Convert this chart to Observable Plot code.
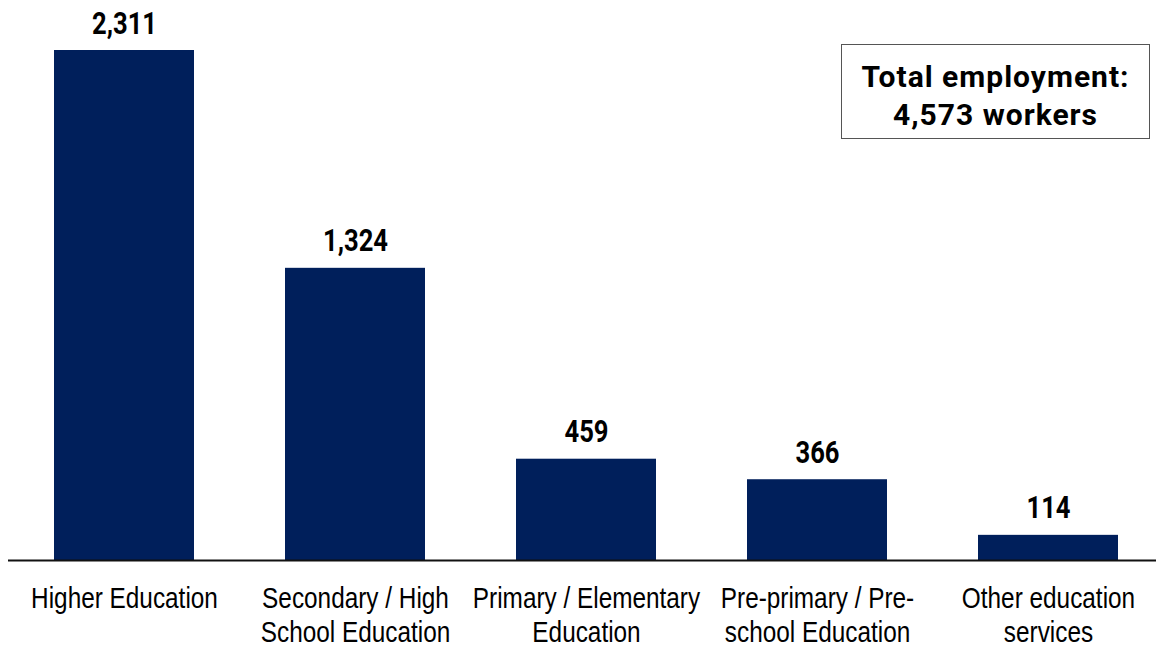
<!DOCTYPE html>
<html>
<head>
<meta charset="utf-8">
<script src="https://cdn.jsdelivr.net/npm/d3@7"></script>
<script src="https://cdn.jsdelivr.net/npm/@observablehq/plot@0.6"></script>
<style>
  html, body { margin: 0; padding: 0; background: #fff; }
  #wrap { position: relative; width: 1156px; height: 646px; }
  #note {
    position: absolute; left: 841px; top: 44px; width: 307px; height: 93px;
    border: 1.5px solid #555; box-sizing: content-box;
    font-family: Roboto, "DejaVu Sans", sans-serif; font-weight: 700;
    font-size: 30px; line-height: 38px; letter-spacing: 1px;
    text-align: center; color: #000;
  }
  #note .inner { padding-top: 13px; }
</style>
</head>
<body>
<div id="wrap">
  <div id="chart"></div>
  <div id="note"><div class="inner">Total employment:<br>4,573 workers</div></div>
</div>
<script>
const categories = [
  "Higher Education",
  "Secondary / High School Education",
  "Primary / Elementary Education",
  "Pre-primary / Pre-school Education",
  "Other education services"
];
const tickLabels = [
  "Higher Education",
  "Secondary / High\nSchool Education",
  "Primary / Elementary\nEducation",
  "Pre-primary / Pre-\nschool Education",
  "Other education\nservices"
];
const workers = [2311, 1324, 459, 366, 114];

const data = categories.map((c, i) => ({category: c, value: workers[i], label: tickLabels[i]}));
const labelOf = new Map(data.map(d => [d.category, d.label]));

const chart = Plot.plot({
  width: 1156,
  height: 646,
  marginLeft: 8,
  marginRight: 0,
  marginTop: 50,
  marginBottom: 86,
  style: {background: "#fff"},
  x: {domain: categories, paddingInner: 0.395, paddingOuter: 0.177, align: 0.549, label: null},
  y: {domain: [0, 2311], axis: null},
  marks: [
    Plot.barY(data, {x: "category", y: "value", fill: "#001F5B"}),
    Plot.ruleY([0], {stroke: "#111", strokeWidth: 2}),
    Plot.text(data, {
      x: "category", y: "value", text: d => d3.format(",")(d.value),
      dy: -17, lineAnchor: "bottom", fontSize: 32, fontWeight: "bold",
      fontFamily: "Roboto, sans-serif", fill: "#000"
    }),
    Plot.axisX({
      tickSize: 0, tickPadding: 24, tickFormat: d => labelOf.get(d),
      fontSize: 29, lineHeight: 1.16, lineAnchor: "top",
      fontFamily: "'Liberation Sans', Arial, sans-serif",
      fill: "#000", label: null
    })
  ]
});
chart.style.fontFamily = "'Liberation Sans', Arial, sans-serif";
const squeeze = (sel, k) => sel.each(function() {
  const t = this.getAttribute("transform");
  if (t) {
    this.setAttribute("transform", t + ` scale(${k},1)`);
  } else {
    const x = +this.getAttribute("x") || 0;
    this.setAttribute("transform", `translate(${x},0) scale(${k},1) translate(${-x},0)`);
  }
});
squeeze(d3.select(chart).selectAll("g[aria-label='text'] text"), 0.8);
squeeze(d3.select(chart).selectAll("g[aria-label='x-axis tick label'] text"), 0.84);
document.getElementById("chart").appendChild(chart);
</script>
</body>
</html>
